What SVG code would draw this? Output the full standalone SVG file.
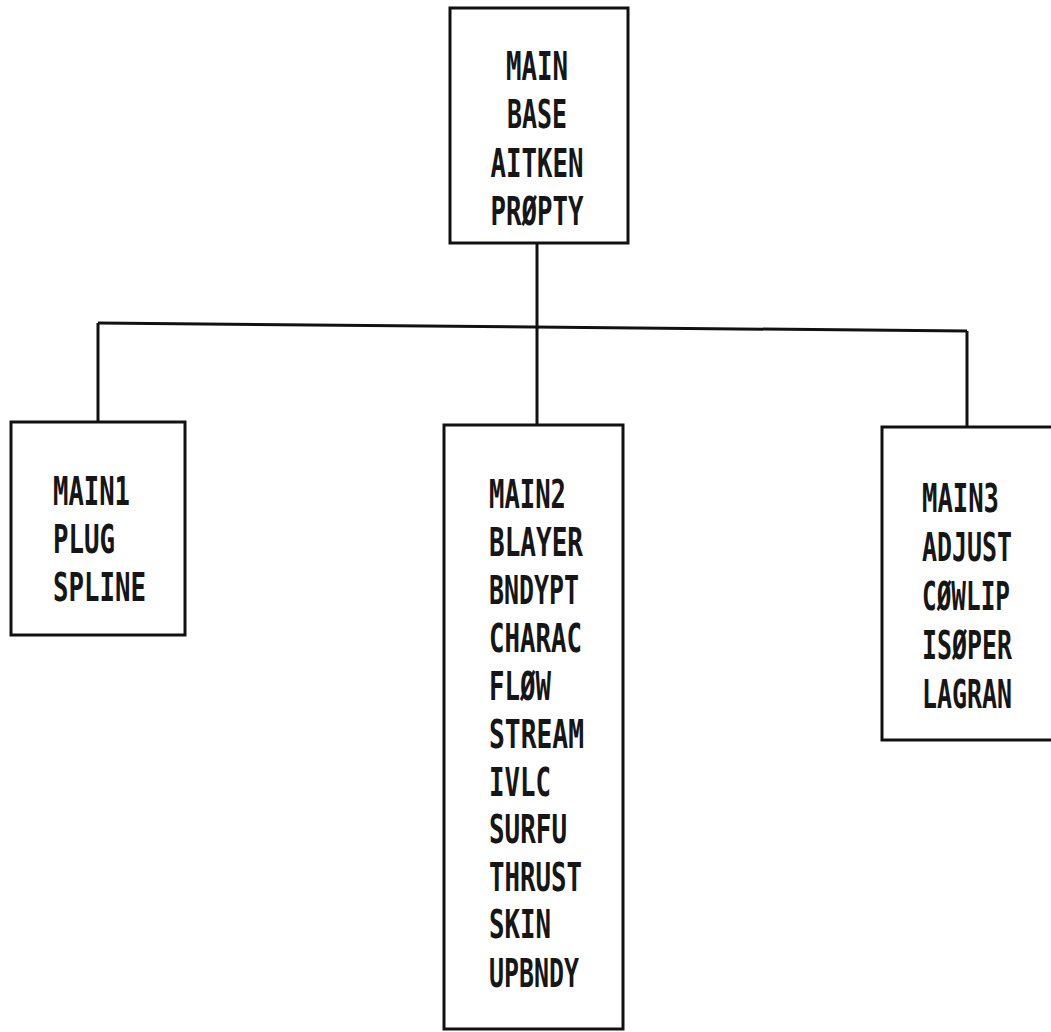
<svg xmlns="http://www.w3.org/2000/svg" width="1051" height="1032" viewBox="0 0 1051 1032">
<style>
.box{fill:#fff;stroke:#111;stroke-width:3}
.con{fill:none;stroke:#111;stroke-width:3}
text{font-family:"DejaVu Sans Mono","Liberation Mono",monospace;font-size:25.7px;font-weight:bold;fill:#161616}
.c{text-anchor:middle}
</style>
<rect width="1051" height="1032" fill="#fff"/>
<g id="connectors">
<line class="con" x1="98" y1="323" x2="967" y2="331"/>
<line class="con" x1="537" y1="243" x2="537" y2="425"/>
<line class="con" x1="98" y1="323" x2="98" y2="422"/>
<line class="con" x1="967" y1="331" x2="967" y2="427"/>
</g>
<g id="node-top">
<rect class="box" x="450" y="8" width="178" height="235"/>
<text class="c" transform="translate(537,80) scale(1,1.5)" textLength="62" lengthAdjust="spacingAndGlyphs">MAIN</text>
<text class="c" transform="translate(537,128) scale(1,1.5)" textLength="60" lengthAdjust="spacingAndGlyphs">BASE</text>
<text class="c" transform="translate(537,177) scale(1,1.5)" textLength="93" lengthAdjust="spacingAndGlyphs">AITKEN</text>
<text class="c" transform="translate(537,225) scale(1,1.5)" textLength="93" lengthAdjust="spacingAndGlyphs">PRØPTY</text>
</g>
<g id="node-main1">
<rect class="box" x="11" y="422" width="174" height="213"/>
<text transform="translate(53,505) scale(1,1.5)" textLength="77" lengthAdjust="spacingAndGlyphs">MAIN1</text>
<text transform="translate(53,553) scale(1,1.5)" textLength="62" lengthAdjust="spacingAndGlyphs">PLUG</text>
<text transform="translate(53,601) scale(1,1.5)" textLength="93" lengthAdjust="spacingAndGlyphs">SPLINE</text>
</g>
<g id="node-main2">
<rect class="box" x="444" y="425" width="179" height="604"/>
<text transform="translate(489,508) scale(1,1.5)" textLength="77" lengthAdjust="spacingAndGlyphs">MAIN2</text>
<text transform="translate(489,556) scale(1,1.5)" textLength="94" lengthAdjust="spacingAndGlyphs">BLAYER</text>
<text transform="translate(489,604) scale(1,1.5)" textLength="90" lengthAdjust="spacingAndGlyphs">BNDYPT</text>
<text transform="translate(489,652) scale(1,1.5)" textLength="93" lengthAdjust="spacingAndGlyphs">CHARAC</text>
<text transform="translate(489,700) scale(1,1.5)" textLength="62" lengthAdjust="spacingAndGlyphs">FLØW</text>
<text transform="translate(489,748) scale(1,1.5)" textLength="95" lengthAdjust="spacingAndGlyphs">STREAM</text>
<text transform="translate(489,796) scale(1,1.5)" textLength="62" lengthAdjust="spacingAndGlyphs">IVLC</text>
<text transform="translate(489,843) scale(1,1.5)" textLength="78" lengthAdjust="spacingAndGlyphs">SURFU</text>
<text transform="translate(489,891) scale(1,1.5)" textLength="93" lengthAdjust="spacingAndGlyphs">THRUST</text>
<text transform="translate(489,938) scale(1,1.5)" textLength="62" lengthAdjust="spacingAndGlyphs">SKIN</text>
<text transform="translate(489,987) scale(1,1.5)" textLength="90" lengthAdjust="spacingAndGlyphs">UPBNDY</text>
</g>
<g id="node-main3">
<path class="box" d="M1052,427 H882 V740 H1052"/>
<text transform="translate(922,512) scale(1,1.5)" textLength="77" lengthAdjust="spacingAndGlyphs">MAIN3</text>
<text transform="translate(922,561) scale(1,1.5)" textLength="90" lengthAdjust="spacingAndGlyphs">ADJUST</text>
<text transform="translate(922,610) scale(1,1.5)" textLength="88" lengthAdjust="spacingAndGlyphs">CØWLIP</text>
<text transform="translate(922,659) scale(1,1.5)" textLength="90" lengthAdjust="spacingAndGlyphs">ISØPER</text>
<text transform="translate(922,708) scale(1,1.5)" textLength="90" lengthAdjust="spacingAndGlyphs">LAGRAN</text>
</g>
</svg>
